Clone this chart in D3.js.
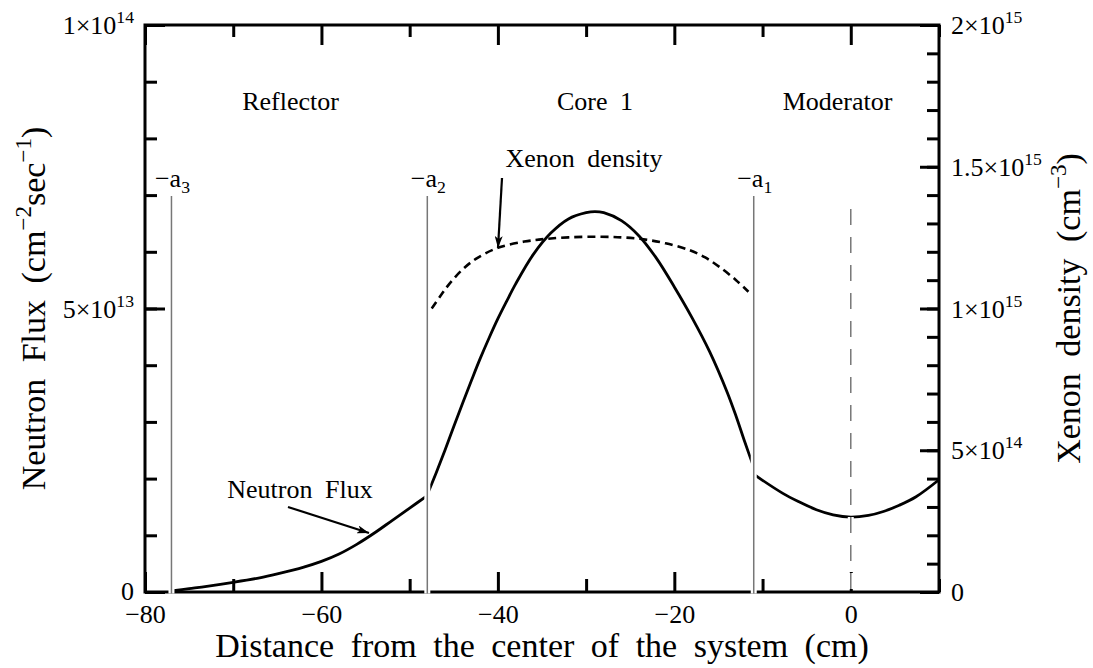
<!DOCTYPE html>
<html>
<head>
<meta charset="utf-8">
<script src="https://cdn.jsdelivr.net/npm/d3@7"></script>
<style>
  body { margin: 0; background: #fff; }
  svg { display: block; }
  text { font-family: "Liberation Serif", "Times New Roman", serif; fill: #000; }
</style>
</head>
<body>
<div id="chart"></div>
<script>
// x positions (cm) and values
var fluxReflector = [
  [-77, 0.02e13], [-75, 0.06e13], [-73, 0.10e13], [-70, 0.17e13], [-67, 0.25e13],
  [-65, 0.32e13], [-62, 0.44e13], [-60, 0.54e13], [-58, 0.67e13], [-56, 0.84e13],
  [-54, 1.04e13], [-52, 1.26e13], [-50, 1.48e13], [-48, 1.70e13]
];
var fluxCore = [
  [-48, 1.72e13], [-47, 2.10e13], [-46, 2.50e13], [-45, 2.92e13], [-44, 3.33e13],
  [-43, 3.73e13], [-42, 4.12e13], [-41, 4.48e13], [-40, 4.82e13], [-39, 5.13e13],
  [-38, 5.43e13], [-36, 5.95e13], [-34, 6.33e13], [-32, 6.58e13], [-30, 6.69e13],
  [-29, 6.71e13], [-28, 6.69e13], [-26, 6.55e13], [-24, 6.28e13], [-22, 5.88e13],
  [-20, 5.38e13], [-18, 4.84e13], [-16, 4.24e13], [-14, 3.52e13], [-13, 3.10e13],
  [-12, 2.64e13], [-11, 2.20e13]
];
var fluxModerator = [
  [-11, 2.08e13], [-10, 1.97e13], [-7.7, 1.74e13], [-6, 1.60e13], [-3.9, 1.45e13],
  [-2, 1.36e13], [0, 1.32e13], [2, 1.35e13], [3.7, 1.42e13], [5.5, 1.53e13],
  [7.4, 1.68e13], [10, 1.98e13]
];
var xenonCore = [
  [-47.5, 10.0e14], [-46.5, 10.45e14], [-45.5, 10.87e14], [-44, 11.38e14], [-42.4, 11.77e14],
  [-40, 12.14e14], [-37, 12.36e14], [-34.7, 12.45e14], [-32, 12.51e14], [-28.8, 12.53e14],
  [-26, 12.51e14], [-23.5, 12.44e14], [-21, 12.30e14], [-18.3, 12.06e14], [-16.5, 11.8e14],
  [-14.9, 11.47e14], [-13, 11.0e14], [-11.6, 10.59e14]
];

var boundaries = [-77, -48, -11];
var boundaryNames = ["3", "2", "1"];
var centerLine = 0;

var regionNames = ["Reflector", "Core 1", "Moderator"];
var regionCenters = [-63.5, -29, -1.5];

var xMajor = [-80, -60, -40, -20, 0];
var xMinor = [-70, -50, -30, -10, 10];
var fluxMajor = [0, 5e13, 1e14];
var fluxMajorText = ["0", "5×10^{13}", "1×10^{14}"];
var fluxMinor = d3.range(0, 11).map(function(i) { return i * 1e13; });
var xenonMajor = [0, 5e14, 1e15, 1.5e15, 2e15];
var xenonMajorText = ["0", "5×10^{14}", "1×10^{15}", "1.5×10^{15}", "2×10^{15}"];
var xenonMinor = d3.range(0, 21).map(function(i) { return i * 1e14; });

var w = 1093, h = 668;
var pLeft = 145, pRight = 939, pTop = 25, pBottom = 592;

var svg = d3.select("#chart").append("svg")
    .attr("width", w)
    .attr("height", h);

var x = d3.scaleLinear().domain([-80, 10]).range([pLeft, pRight]);
var yFlux = d3.scaleLinear().domain([0, 1e14]).range([pBottom, pTop]);
var yXe = d3.scaleLinear().domain([0, 2e15]).range([pBottom, pTop]);

// text with ^{sup} and _{sub} pieces
function rich(t, str, size) {
  var parts = str.split(/([\^_]\{[^}]*\})/).filter(function(s) { return s.length; });
  var shift = 0;
  parts.forEach(function(p) {
    var sp = t.append("tspan");
    var target = 0, txt = p;
    if (p[0] == "^") { target = -0.42 * size; txt = p.slice(2, -1); sp.attr("font-size", size * 0.68); }
    else if (p[0] == "_") { target = 0.22 * size; txt = p.slice(2, -1); sp.attr("font-size", size * 0.68); }
    if (target != shift) { sp.attr("dy", target - shift); shift = target; }
    sp.text(txt);
  });
}

function styleAxis(g, size) {
  g.select(".domain").remove();
  g.selectAll(".tick line").attr("stroke", "#000").attr("stroke-width", 3);
  g.selectAll("text").attr("font-size", size);
  g.attr("font-family", null).attr("font-size", null);
}

// ticks
svg.append("g").attr("transform", "translate(0," + pBottom + ")")
  .call(d3.axisBottom(x).tickValues(xMajor).tickSize(-20).tickPadding(13))
  .call(styleAxis, 26);
svg.append("g").attr("transform", "translate(0," + pBottom + ")")
  .call(d3.axisBottom(x).tickValues(xMinor).tickSize(-13).tickFormat(""))
  .call(styleAxis, 26);
svg.append("g").attr("transform", "translate(0," + pTop + ")")
  .call(d3.axisTop(x).tickValues(xMajor).tickSize(-20).tickFormat(""))
  .call(styleAxis, 26);
svg.append("g").attr("transform", "translate(0," + pTop + ")")
  .call(d3.axisTop(x).tickValues(xMinor).tickSize(-12).tickFormat(""))
  .call(styleAxis, 26);
svg.append("g").attr("transform", "translate(" + pLeft + ",0)")
  .call(d3.axisLeft(yFlux).tickValues(fluxMinor).tickSize(-12).tickFormat(""))
  .call(styleAxis, 26);
svg.append("g").attr("transform", "translate(" + pLeft + ",0)")
  .call(d3.axisLeft(yFlux).tickValues(fluxMajor).tickSize(-20).tickFormat(""))
  .call(styleAxis, 26);
svg.append("g").attr("transform", "translate(" + pRight + ",0)")
  .call(d3.axisRight(yXe).tickValues(xenonMinor).tickSize(-12).tickFormat(""))
  .call(styleAxis, 26);
svg.append("g").attr("transform", "translate(" + pRight + ",0)")
  .call(d3.axisRight(yXe).tickValues(xenonMajor).tickSize(-19).tickFormat(""))
  .call(styleAxis, 26);

// y tick labels with exponents
fluxMajor.forEach(function(v, i) {
  var t = svg.append("text").attr("x", pLeft - 11).attr("y", yFlux(v) + (v == 0 ? 8 : 9))
    .attr("text-anchor", "end").attr("font-size", 26);
  rich(t, fluxMajorText[i], 26);
});
xenonMajor.forEach(function(v, i) {
  var t = svg.append("text").attr("x", pRight + 12).attr("y", yXe(v) + 9)
    .attr("font-size", 26);
  rich(t, xenonMajorText[i], 26);
});

// frame
svg.append("rect")
  .attr("x", pLeft).attr("y", pTop)
  .attr("width", pRight - pLeft).attr("height", pBottom - pTop)
  .attr("fill", "none").attr("stroke", "#000").attr("stroke-width", 3);

// curves
var fluxLine = d3.line()
  .x(function(d) { return x(d[0]); })
  .y(function(d) { return yFlux(d[1]); })
  .curve(d3.curveCatmullRom.alpha(0.5));
var xeLine = d3.line()
  .x(function(d) { return x(d[0]); })
  .y(function(d) { return yXe(d[1]); })
  .curve(d3.curveCatmullRom.alpha(0.5));

[fluxReflector, fluxCore, fluxModerator].forEach(function(seg) {
  svg.append("path").datum(seg)
    .attr("d", fluxLine)
    .attr("fill", "none").attr("stroke", "#000").attr("stroke-width", 2.8);
});
svg.append("path").datum(xenonCore)
  .attr("d", xeLine)
  .attr("fill", "none").attr("stroke", "#000").attr("stroke-width", 2.6)
  .attr("stroke-dasharray", "8,5");

// region boundaries, white halo then grey line
var lineTop = 196;
svg.selectAll(".halo").data(boundaries).enter().append("line")
  .attr("x1", function(d) { return x(d); }).attr("x2", function(d) { return x(d); })
  .attr("y1", lineTop).attr("y2", pBottom + 1.5)
  .attr("stroke", "#fff").attr("stroke-width", 6);
svg.selectAll(".bound").data(boundaries).enter().append("line")
  .attr("x1", function(d) { return x(d); }).attr("x2", function(d) { return x(d); })
  .attr("y1", lineTop).attr("y2", pBottom + 1.5)
  .attr("stroke", "#777").attr("stroke-width", 1.5);

svg.append("line")
  .attr("x1", x(centerLine)).attr("x2", x(centerLine))
  .attr("y1", 209).attr("y2", pBottom + 1.5)
  .attr("stroke", "#fff").attr("stroke-width", 6)
  .attr("stroke-dasharray", "16,12");
svg.append("line")
  .attr("x1", x(centerLine)).attr("x2", x(centerLine))
  .attr("y1", 209).attr("y2", pBottom + 1.5)
  .attr("stroke", "#777").attr("stroke-width", 1.5)
  .attr("stroke-dasharray", "16,12");

boundaries.forEach(function(b, i) {
  var t = svg.append("text").attr("x", x(b) + 1).attr("y", 187)
    .attr("text-anchor", "middle").attr("font-size", 26);
  rich(t, "−a_{" + boundaryNames[i] + "}", 26);
});

// region names
regionNames.forEach(function(n, i) {
  svg.append("text").attr("x", x(regionCenters[i])).attr("y", 110)
    .attr("text-anchor", "middle").attr("font-size", 26)
    .style("word-spacing", "6px")
    .text(n);
});

// arrows
svg.append("defs").append("marker")
  .attr("id", "head").attr("viewBox", "0 0 12 8")
  .attr("refX", 12).attr("refY", 4)
  .attr("markerWidth", 12).attr("markerHeight", 8)
  .attr("markerUnits", "userSpaceOnUse")
  .attr("orient", "auto")
  .append("path").attr("d", "M0,0L12,4L0,8L3,4Z").attr("fill", "#000");

svg.append("text").attr("x", 300).attr("y", 498)
  .attr("text-anchor", "middle").attr("font-size", 26)
  .style("word-spacing", "6px").text("Neutron Flux");
svg.append("line").attr("x1", 288).attr("y1", 507).attr("x2", 369).attr("y2", 533)
  .attr("stroke", "#000").attr("stroke-width", 2.2).attr("marker-end", "url(#head)");

svg.append("text").attr("x", 584).attr("y", 167)
  .attr("text-anchor", "middle").attr("font-size", 26)
  .style("word-spacing", "6px").text("Xenon density");
svg.append("line").attr("x1", 502).attr("y1", 178).attr("x2", 498).attr("y2", 248)
  .attr("stroke", "#000").attr("stroke-width", 2.2).attr("marker-end", "url(#head)");

// axis titles
svg.append("text").attr("x", (pLeft + pRight) / 2).attr("y", 657)
  .attr("text-anchor", "middle").attr("font-size", 34)
  .style("word-spacing", "8px")
  .text("Distance from the center of the system (cm)");

var lt = svg.append("text")
  .attr("transform", "translate(45," + (pTop + pBottom) / 2 + ") rotate(-90)")
  .attr("text-anchor", "middle").attr("font-size", 34)
  .style("word-spacing", "8px");
rich(lt, "Neutron Flux (cm^{−2}sec^{−1})", 34);

var rt = svg.append("text")
  .attr("transform", "translate(1080," + (pTop + pBottom) / 2 + ") rotate(-90)")
  .attr("text-anchor", "middle").attr("font-size", 34)
  .style("word-spacing", "8px");
rich(rt, "Xenon density (cm^{−3})", 34);
</script>
</body>
</html>
